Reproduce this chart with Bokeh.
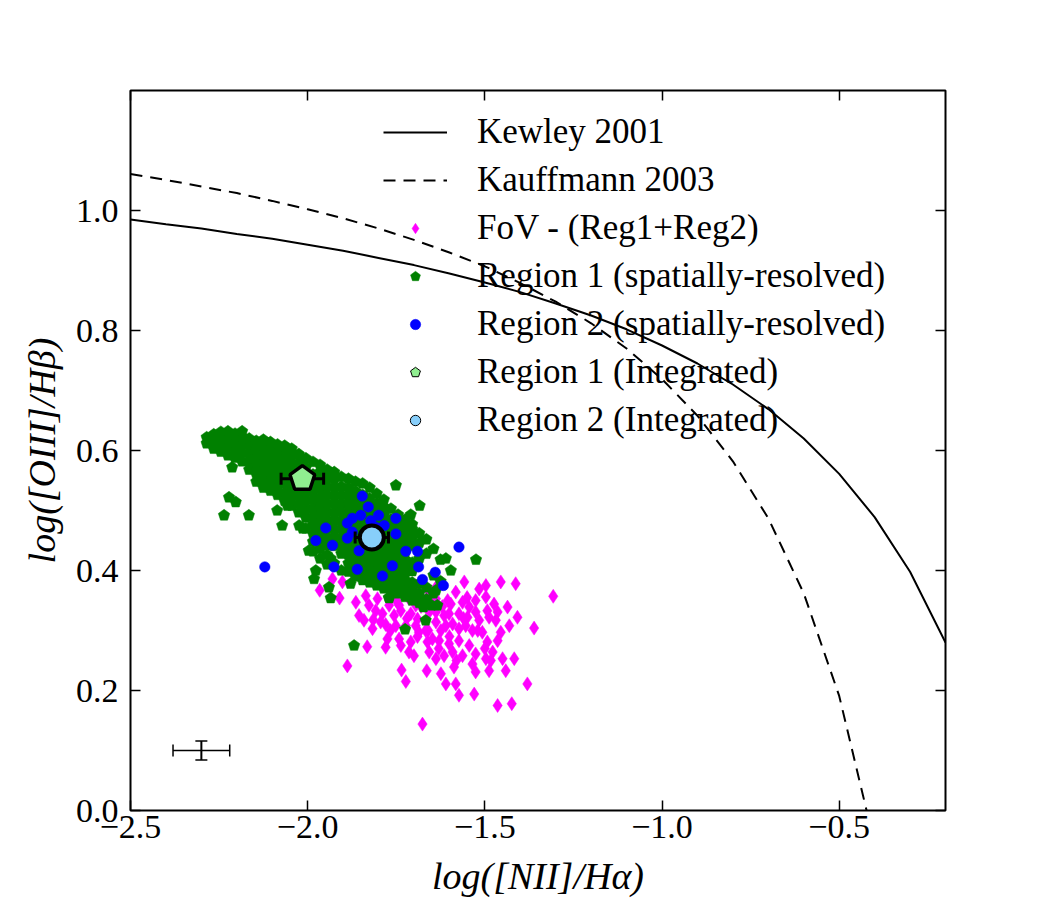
import numpy as np
from bokeh.plotting import figure
from bokeh.models import (Range1d, LinearAxis, FixedTicker, CustomJSTickFormatter,
                          Legend, LegendItem)
from bokeh.embed import file_html
from bokeh.resources import INLINE

FONT = "Liberation Serif"

# Demarcation curves (sampled every 0.1 dex in log [NII]/Halpha)
KEWLEY_X = [-2.5, -2.4, -2.3, -2.2, -2.1, -2.0, -1.9, -1.8, -1.7, -1.6, -1.5, -1.4,
            -1.3, -1.2, -1.1, -1.0, -0.9, -0.8, -0.7, -0.6, -0.5, -0.4, -0.3, -0.2]
KEWLEY_Y = [0.985, 0.977, 0.970, 0.961, 0.953, 0.943, 0.933, 0.921, 0.909, 0.895, 0.880, 0.864,
            0.845, 0.825, 0.802, 0.775, 0.745, 0.710, 0.669, 0.620, 0.561, 0.489, 0.398, 0.280]
KAUFF_X = [-2.5, -2.4, -2.3, -2.2, -2.1, -2.0, -1.9, -1.8, -1.7, -1.6, -1.5, -1.4,
           -1.3, -1.2, -1.1, -1.0, -0.9, -0.8, -0.7, -0.6, -0.5, -0.4]
KAUFF_Y = [1.061, 1.051, 1.040, 1.029, 1.016, 1.002, 0.987, 0.970, 0.951, 0.930, 0.907, 0.879,
           0.848, 0.812, 0.770, 0.719, 0.658, 0.582, 0.487, 0.362, 0.191, -0.056]

# Field of view minus the two regions
FOV_X = [-1.307, -1.361, -1.380, -1.424, -1.464, -1.676, -1.888, -1.832, -1.723, -1.735,
         -1.664, -1.530, -1.573, -1.582, -1.610, -1.624, -1.413, -1.455, -1.497, -1.516,
         -1.436, -1.408, -1.417, -1.441, -1.488, -1.483, -1.497, -1.526, -1.535, -1.526,
         -1.587, -1.563, -1.591, -1.615, -1.573, -1.544, -1.535, -1.493, -1.464, -1.455,
         -1.469, -1.488, -1.516, -1.549, -1.526, -1.493, -1.464, -1.601, -1.629, -1.624,
         -1.591, -1.573, -1.596, -1.563, -1.544, -1.526, -1.497, -1.474, -1.558, -1.605,
         -1.648, -1.657, -1.780, -1.737, -1.714, -1.709, -1.766, -1.775, -1.855, -1.841,
         -1.815, -1.794, -1.789, -1.756, -1.737, -1.709, -1.690, -1.667, -1.686, -1.700,
         -1.662, -1.966, -1.910, -1.930, -1.902, -1.864, -1.827, -1.803, -1.761, -1.733,
         -1.695, -1.657, -1.638, -1.657, -1.695, -1.714, -1.742, -1.770, -1.808, -1.836,
         -1.638, -1.615, -1.620, -1.582, -1.723, -1.695, -1.751, -1.817, -1.638, -1.676,
         -1.742, -1.638, -1.507, -1.431, -1.478, -1.450, -1.610, -1.573, -1.554, -1.601,
         -1.680, -1.620, -1.560, -1.600, -1.660, -1.720, -1.750, -1.780, -1.700, -1.640,
         -1.550, -1.520, -1.580, -1.500, -1.690, -1.630]
FOV_Y = [0.357, 0.304, 0.211, 0.178, 0.175, 0.144, 0.241, 0.273, 0.215, 0.234,
         0.233, 0.194, 0.192, 0.211, 0.211, 0.228, 0.378, 0.381, 0.375, 0.369,
         0.339, 0.322, 0.253, 0.233, 0.233, 0.250, 0.253, 0.261, 0.244, 0.231,
         0.239, 0.258, 0.264, 0.258, 0.283, 0.275, 0.300, 0.281, 0.283, 0.297,
         0.317, 0.322, 0.317, 0.322, 0.331, 0.333, 0.331, 0.278, 0.283, 0.300,
         0.311, 0.328, 0.344, 0.347, 0.339, 0.350, 0.356, 0.344, 0.381, 0.350,
         0.286, 0.264, 0.272, 0.275, 0.264, 0.281, 0.300, 0.286, 0.325, 0.317,
         0.318, 0.314, 0.328, 0.325, 0.333, 0.328, 0.319, 0.300, 0.297, 0.258,
         0.281, 0.367, 0.354, 0.386, 0.381, 0.347, 0.342, 0.353, 0.361, 0.375,
         0.372, 0.364, 0.353, 0.331, 0.342, 0.353, 0.342, 0.342, 0.333, 0.358,
         0.314, 0.325, 0.378, 0.364, 0.308, 0.308, 0.308, 0.303, 0.331, 0.353,
         0.286, 0.253, 0.297, 0.308, 0.264, 0.253, 0.308, 0.303, 0.308, 0.328,
         0.340, 0.340, 0.320, 0.290, 0.300, 0.320, 0.350, 0.310, 0.360, 0.370,
         0.355, 0.300, 0.250, 0.270, 0.290, 0.270]

# Region 1 spaxels: dense band given column by column, then isolated spaxels
R1_COL_X = [-2.285, -2.265, -2.245, -2.225, -2.205, -2.185, -2.165, -2.145, -2.125, -2.105,
            -2.085, -2.065, -2.045, -2.025, -2.005, -1.985, -1.965, -1.945, -1.925, -1.905,
            -1.885, -1.865, -1.845, -1.825, -1.805, -1.785, -1.765, -1.745, -1.725, -1.705,
            -1.685, -1.665, -1.645, -1.625]
R1_COL_Y = [
    [0.612, 0.622],
    [0.603, 0.615, 0.627],
    [0.598, 0.611, 0.624, 0.631],
    [0.592, 0.606, 0.619, 0.632],
    [0.588, 0.601, 0.614, 0.628],
    [0.582, 0.596, 0.610, 0.623, 0.632],
    [0.568, 0.581, 0.594, 0.607, 0.620],
    [0.548, 0.561, 0.575, 0.589, 0.603, 0.616],
    [0.538, 0.552, 0.566, 0.580, 0.594, 0.607, 0.618],
    [0.533, 0.546, 0.560, 0.574, 0.588, 0.601, 0.614],
    [0.526, 0.540, 0.554, 0.568, 0.582, 0.596, 0.610],
    [0.516, 0.530, 0.545, 0.559, 0.573, 0.587, 0.600, 0.608],
    [0.508, 0.522, 0.536, 0.550, 0.564, 0.578, 0.592, 0.603],
    [0.497, 0.511, 0.525, 0.539, 0.566, 0.580, 0.594],
    [0.470, 0.488, 0.502, 0.516, 0.530, 0.544, 0.572, 0.587],
    [0.432, 0.448, 0.462, 0.476, 0.490, 0.504, 0.518, 0.532, 0.546, 0.560, 0.581],
    [0.420, 0.436, 0.452, 0.466, 0.480, 0.494, 0.508, 0.522, 0.536, 0.550, 0.564, 0.576],
    [0.410, 0.426, 0.442, 0.456, 0.470, 0.484, 0.498, 0.512, 0.526, 0.540, 0.554, 0.568],
    [0.412, 0.441, 0.455, 0.469, 0.483, 0.497, 0.511, 0.525, 0.539, 0.553, 0.564],
    [0.400, 0.428, 0.442, 0.456, 0.470, 0.484, 0.498, 0.512, 0.526, 0.540, 0.556],
    [0.398, 0.412, 0.426, 0.440, 0.454, 0.468, 0.482, 0.496, 0.510, 0.524, 0.538, 0.553],
    [0.390, 0.405, 0.420, 0.434, 0.448, 0.462, 0.476, 0.490, 0.504, 0.518, 0.532, 0.548],
    [0.384, 0.398, 0.412, 0.426, 0.440, 0.456, 0.470, 0.484, 0.498, 0.512, 0.526, 0.545],
    [0.380, 0.394, 0.408, 0.422, 0.436, 0.450, 0.464, 0.478, 0.492, 0.506, 0.520, 0.538],
    [0.375, 0.388, 0.400, 0.414, 0.428, 0.442, 0.456, 0.470, 0.484, 0.498, 0.512, 0.528],
    [0.370, 0.382, 0.394, 0.408, 0.422, 0.436, 0.450, 0.464, 0.478, 0.492, 0.506, 0.518],
    [0.366, 0.378, 0.390, 0.403, 0.415, 0.429, 0.443, 0.457, 0.471, 0.485, 0.503],
    [0.362, 0.374, 0.386, 0.397, 0.409, 0.423, 0.437, 0.451, 0.465, 0.479, 0.493],
    [0.356, 0.370, 0.384, 0.395, 0.406, 0.418, 0.430, 0.444, 0.458, 0.472, 0.485],
    [0.350, 0.366, 0.380, 0.399, 0.413, 0.441, 0.455, 0.469, 0.477],
    [0.346, 0.362, 0.378, 0.420, 0.446, 0.462],
    [0.352, 0.372, 0.428, 0.452],
    [0.362, 0.392, 0.436],
    [0.382, 0.418],
]
R1_EXTRA_X = [-2.213, -2.203, -2.222, -2.236, -2.166, -2.086, -2.072, -2.057, -2.024, -1.751,
              -1.684, -1.709, -1.525, -1.596, -1.869, -1.725, -1.667, -1.673, -1.634, -1.770,
              -1.935, -1.940, -1.982, -1.977, -1.997, -2.014, -1.935, -1.879, -1.771, -1.701,
              -1.737, -1.638, -1.610, -1.650]
R1_EXTRA_Y = [0.572, 0.514, 0.522, 0.492, 0.492, 0.500, 0.475, 0.508, 0.475, 0.542,
              0.508, 0.493, 0.418, 0.400, 0.275, 0.302, 0.317, 0.339, 0.342, 0.354,
              0.354, 0.372, 0.386, 0.400, 0.433, 0.470, 0.420, 0.378, 0.355, 0.355,
              0.383, 0.367, 0.420, 0.342]

# Region 2 spaxels
R2_X = [-1.846, -1.829, -1.800, -1.850, -1.874, -1.751, -1.888, -1.949, -1.784, -1.977,
        -1.930, -1.888, -1.751, -1.855, -1.723, -1.690, -1.926, -1.860, -1.761, -1.687,
        -1.789, -1.640, -1.676, -1.617, -1.573, -2.121, -1.874, -1.808, -1.836, -1.822]
R2_Y = [0.524, 0.506, 0.492, 0.492, 0.487, 0.487, 0.479, 0.471, 0.475, 0.450,
        0.442, 0.454, 0.461, 0.433, 0.432, 0.432, 0.406, 0.402, 0.408, 0.406,
        0.391, 0.397, 0.385, 0.375, 0.439, 0.406, 0.464, 0.472, 0.444, 0.483]

# Integrated spectra of each region
R1_INT_X, R1_INT_Y, R1_INT_XERR = [-2.015], [0.553], [0.060]
R2_INT_X, R2_INT_Y, R2_INT_XERR = [-1.819], [0.455], [0.047]

# Typical uncertainty of a single spaxel
TYP_X, TYP_Y, TYP_XERR, TYP_YERR = [-2.30], [0.10], [0.080], [0.016]

X_TICKS = [-2.5, -2.0, -1.5, -1.0, -0.5]
Y_TICKS = [0.0, 0.2, 0.4, 0.6, 0.8, 1.0]

r1_x = [x for x, ys in zip(R1_COL_X, R1_COL_Y) for _ in ys] + R1_EXTRA_X
r1_y = [y for ys in R1_COL_Y for y in ys] + R1_EXTRA_Y

p = figure(frame_width=815, frame_height=720,
           x_range=Range1d(-2.5, -0.2), y_range=Range1d(0.0, 1.2),
           output_backend="svg", toolbar_location=None,
           min_border_left=130, min_border_right=105,
           min_border_top=90, min_border_bottom=90,
           background_fill_color="white", border_fill_color="white")
p.grid.visible = False
p.outline_line_color = "black"
p.outline_line_width = 2

top_ax = LinearAxis()
right_ax = LinearAxis()
p.add_layout(top_ax, "above")
p.add_layout(right_ax, "right")

fmt = CustomJSTickFormatter(code="return tick.toFixed(1).replace('-', '\\u2212');")
bottom_ax, left_ax = p.below[0], p.left[0]
for ax, ticks in ((bottom_ax, X_TICKS), (top_ax, X_TICKS), (left_ax, Y_TICKS), (right_ax, Y_TICKS)):
    ax.ticker = FixedTicker(ticks=ticks)
    ax.formatter = fmt
    ax.major_tick_in = 10
    ax.major_tick_out = 0
    ax.minor_tick_line_color = None
    ax.axis_line_color = None
    ax.major_tick_line_color = "black"
    ax.major_tick_line_width = 1.5
    ax.major_label_text_font = FONT
    ax.major_label_text_font_size = "34px"
    ax.major_label_text_color = "black"
# top and right spines carry ticks only
for ax in (top_ax, right_ax):
    ax.major_label_text_color = None
    ax.major_label_standoff = 0

bottom_ax.major_label_standoff = 5
left_ax.major_label_standoff = 12
for ax, lab in ((bottom_ax, "log([NII]/Hα)"), (left_ax, "log([OIII]/Hβ)")):
    ax.axis_label = lab
    ax.axis_label_text_font = FONT
    ax.axis_label_text_font_style = "italic"
    ax.axis_label_text_font_size = "38px"
    ax.axis_label_text_color = "black"
bottom_ax.axis_label_standoff = 14
left_ax.axis_label_standoff = 10

# demarcation lines
kew = p.line(KEWLEY_X, KEWLEY_Y, line_color="black", line_width=2)
kau = p.line(KAUFF_X, KAUFF_Y, line_color="black", line_width=2, line_dash="12 8")

# spaxels
fov = p.scatter(FOV_X, FOV_Y, marker="diamond", size=14,
                fill_color="#FF00FF", line_color="#FF00FF", line_width=0.5)
r1 = p.ngon(x=r1_x, y=r1_y, radius=6, radius_units="screen", n=5, angle=0,
            fill_color="#008000", line_color="#008000", line_width=0.5)
r2 = p.scatter(R2_X, R2_Y, marker="circle", size=10.5,
               fill_color="#0000FF", line_color="#0000FF", line_width=0.5)


def xerrorbar(xs, ys, errs, width, cap):
    xs, ys, errs = map(np.asarray, (xs, ys, errs))
    p.segment(x0=xs - errs, x1=xs + errs, y0=ys, y1=ys, line_color="black", line_width=width)
    p.scatter(x=np.concatenate([xs - errs, xs + errs]), y=np.concatenate([ys, ys]),
              marker="dash", angle=np.pi / 2, size=cap, line_color="black", line_width=width)


# integrated spectra
xerrorbar(R1_INT_X, R1_INT_Y, R1_INT_XERR, 3, 12)
p.ngon(x=R1_INT_X, y=R1_INT_Y, radius=13, radius_units="screen", n=5, angle=0,
       fill_color="#90EE90", line_color="black", line_width=3.5)
xerrorbar(R2_INT_X, R2_INT_Y, R2_INT_XERR, 3, 12)
p.scatter(R2_INT_X, R2_INT_Y, marker="circle", size=24,
          fill_color="#87CEFA", line_color="black", line_width=4)

# typical error bar
xerrorbar(TYP_X, TYP_Y, TYP_XERR, 1.5, 12)
tx, ty, tye = np.asarray(TYP_X), np.asarray(TYP_Y), np.asarray(TYP_YERR)
p.segment(x0=tx, x1=tx, y0=ty - tye, y1=ty + tye, line_color="black", line_width=2)
p.scatter(x=np.concatenate([tx, tx]), y=np.concatenate([ty - tye, ty + tye]),
          marker="dash", size=12, line_color="black", line_width=1.5)

# legend-only glyphs for the integrated points
r1_leg = p.ngon(x=[np.nan], y=[np.nan], radius=5, radius_units="screen", n=5, angle=0,
                fill_color="#90EE90", line_color="black", line_width=1)
r2_leg = p.scatter(x=[np.nan], y=[np.nan], marker="circle", size=10,
                   fill_color="#87CEFA", line_color="black", line_width=1)

legend = Legend(items=[
    LegendItem(label="Kewley 2001", renderers=[kew]),
    LegendItem(label="Kauffmann 2003", renderers=[kau]),
    LegendItem(label="FoV - (Reg1+Reg2)", renderers=[fov]),
    LegendItem(label="Region 1 (spatially-resolved)", renderers=[r1]),
    LegendItem(label="Region 2 (spatially-resolved)", renderers=[r2]),
    LegendItem(label="Region 1 (Integrated)", renderers=[r1_leg]),
    LegendItem(label="Region 2 (Integrated)", renderers=[r2_leg]),
], location=(253, 370))
legend.label_text_font = FONT
legend.label_text_font_size = "35px"
legend.label_text_color = "black"
legend.glyph_width = 64
legend.glyph_height = 26
legend.label_height = 26
legend.label_standoff = 30
legend.spacing = 8
legend.padding = 0
legend.margin = 0
legend.border_line_color = None
legend.background_fill_alpha = 0
p.add_layout(legend)

open("out.html", "w").write(file_html(p, INLINE))
